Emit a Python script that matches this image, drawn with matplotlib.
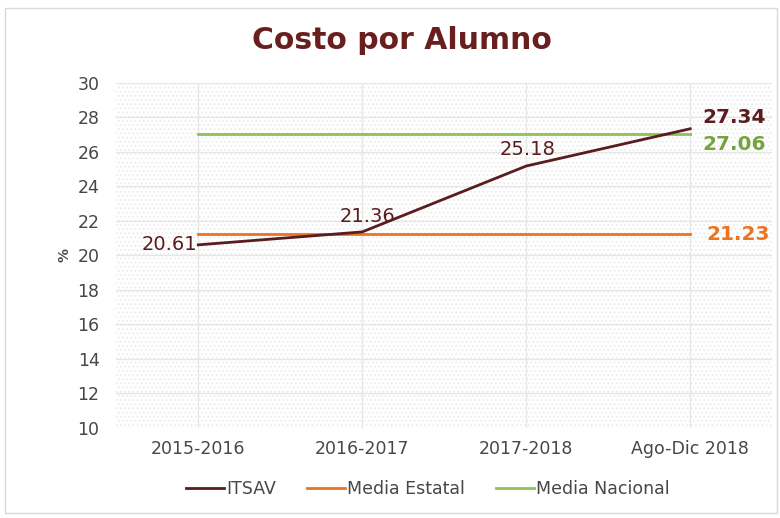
import numpy as np
import matplotlib.pyplot as plt
from matplotlib.patches import Rectangle

categorias = ["2015-2016", "2016-2017", "2017-2018", "Ago-Dic 2018"]
itsav = [20.61, 21.36, 25.18, 27.34]
media_estatal = [21.23, 21.23, 21.23, 21.23]
media_nacional = [27.06, 27.06, 27.06, 27.06]

c_itsav = "#5a1c1e"
c_estatal = "#ec7420"
c_nacional = "#8fc155"
c_titulo = "#6a1f1f"

plt.rcParams['font.family'] = ['DejaVu Sans']
plt.rcParams['hatch.linewidth'] = 0.8

fig = plt.figure(figsize=(7.8, 5.18), dpi=100)
ax = fig.add_axes([0.149, 0.174, 0.841, 0.666])

x = np.arange(len(categorias))

# fondo punteado
ax.add_patch(Rectangle((0, 0), 1, 1, transform=ax.transAxes, facecolor="white",
                       edgecolor="#ececec", hatch="....", lw=0, zorder=0))

ax.plot(x, itsav, color=c_itsav, lw=2, label="ITSAV", zorder=3)
ax.plot(x, media_estatal, color=c_estatal, lw=2, label="Media Estatal", zorder=2)
ax.plot(x, media_nacional, color=c_nacional, lw=2, label="Media Nacional", zorder=2)

ax.set_xlim(-0.5, 3.5)
ax.set_ylim(10, 30)
ax.set_yticks(np.arange(10, 31, 2))
ax.set_xticks(x)
ax.set_xticklabels(categorias)
ax.tick_params(length=0, labelsize=12.5, colors="#474747", pad=9)
ax.tick_params(axis="y", pad=12)
ax.grid(True, color="#e6e6e6", lw=1)
ax.set_axisbelow(True)
for s in ax.spines.values():
    s.set_visible(False)

ax.set_ylabel("%", fontsize=10, color="#474747", fontweight="bold", labelpad=4)

# etiquetas de datos
ax.annotate(f"{itsav[0]:.2f}", (x[0], itsav[0]), xytext=(-1, 0), textcoords="offset points",
            ha="right", va="center", fontsize=14, color=c_itsav)
ax.annotate(f"{itsav[1]:.2f}", (x[1], itsav[1]), xytext=(4, 4), textcoords="offset points",
            ha="center", va="bottom", fontsize=14, color=c_itsav)
ax.annotate(f"{itsav[2]:.2f}", (x[2], itsav[2]), xytext=(1, 5), textcoords="offset points",
            ha="center", va="bottom", fontsize=14, color=c_itsav)
ax.annotate(f"{itsav[3]:.2f}", (x[3], itsav[3]), xytext=(9, 8), textcoords="offset points",
            ha="left", va="center", fontsize=14.5, fontweight="bold", color=c_itsav)
ax.annotate(f"{media_nacional[3]:.2f}", (x[3], media_nacional[3]), xytext=(9, -8), textcoords="offset points",
            ha="left", va="center", fontsize=14.5, fontweight="bold", color="#75a33c")
ax.annotate(f"{media_estatal[3]:.2f}", (x[3], media_estatal[3]), xytext=(12, 0), textcoords="offset points",
            ha="left", va="center", fontsize=14.5, fontweight="bold", color=c_estatal)

fig.text(0.515, 0.922, "Costo por Alumno", ha="center", va="center", fontsize=21.5,
         fontweight="bold", color=c_titulo)

ax.legend(loc="upper center", bbox_to_anchor=(0.475, -0.105), ncol=3, frameon=False,
          fontsize=12.5, handlelength=2.2, handletextpad=0.1, columnspacing=1.8,
          labelcolor="#474747")

# marco exterior
fig.patches.append(Rectangle((0.006, 0.01), 0.99, 0.975, transform=fig.transFigure,
                             fill=False, edgecolor="#d9d9d9", lw=1))

fig.savefig("out.png", dpi=100)
